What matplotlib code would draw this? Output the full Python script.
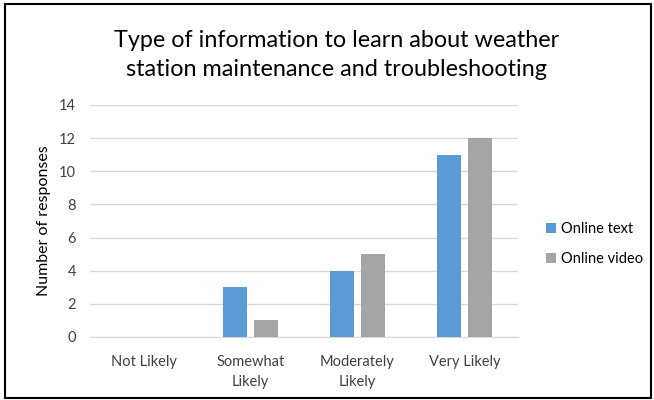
import matplotlib
matplotlib.use("Agg")
import matplotlib.pyplot as plt
from matplotlib.patches import Rectangle
import numpy as np

categories = ["Not Likely", "Somewhat\nLikely", "Moderately\nLikely", "Very Likely"]
online_text = [0, 3, 4, 11]
online_video = [0, 1, 5, 12]
series_names = ["Online text", "Online video"]
yticks = [0, 2, 4, 6, 8, 10, 12, 14]

plt.rcParams['font.family'] = ['Lato', 'DejaVu Sans']
fig = plt.figure(figsize=(6.54, 4.0), dpi=100)
ax = fig.add_axes([0.1376, 0.1575, 0.6544, 0.58])

x = np.arange(len(categories))
w = 0.22
off = 0.145
b1 = ax.bar(x - off, online_text, w, color="#5B9BD5", label=series_names[0], zorder=3)
b2 = ax.bar(x + off, online_video, w, color="#A5A5A5", label=series_names[1], zorder=3)

ax.set_xlim(-0.5, len(categories) - 0.5)
ax.set_ylim(0, 14)
ax.set_yticks(yticks)
ax.set_xticks(x)
ax.set_xticklabels(categories, fontsize=10.5, color="#404040", linespacing=1.5)
ax.tick_params(axis='y', labelsize=10.5, colors="#404040", length=0, pad=10)
ax.tick_params(axis='x', length=0, pad=13)
ax.grid(axis='y', color="#D9D9D9", linewidth=1, zorder=0)
for s in ["top", "right", "left"]:
    ax.spines[s].set_visible(False)
ax.spines["bottom"].set_color("#D9D9D9")
ax.set_ylabel("Number of responses", fontsize=11.5, color="#000000", labelpad=6)

fig.suptitle("Type of information to learn about weather\nstation maintenance and troubleshooting",
             y=0.925, fontsize=16.8, color="#000000", linespacing=1.45, x=0.515)

leg = fig.legend(handles=[b1, b2], loc="center left", bbox_to_anchor=(0.815, 0.39),
                 frameon=False, fontsize=10.5, handlelength=0.7, handleheight=0.7,
                 handletextpad=0.3, labelspacing=1.1)

fig.patches.append(Rectangle((0.008, 0.005), 0.988, 0.985, transform=fig.transFigure,
                             fill=False, edgecolor="black", linewidth=1.5))

fig.savefig("out.png", dpi=100)
